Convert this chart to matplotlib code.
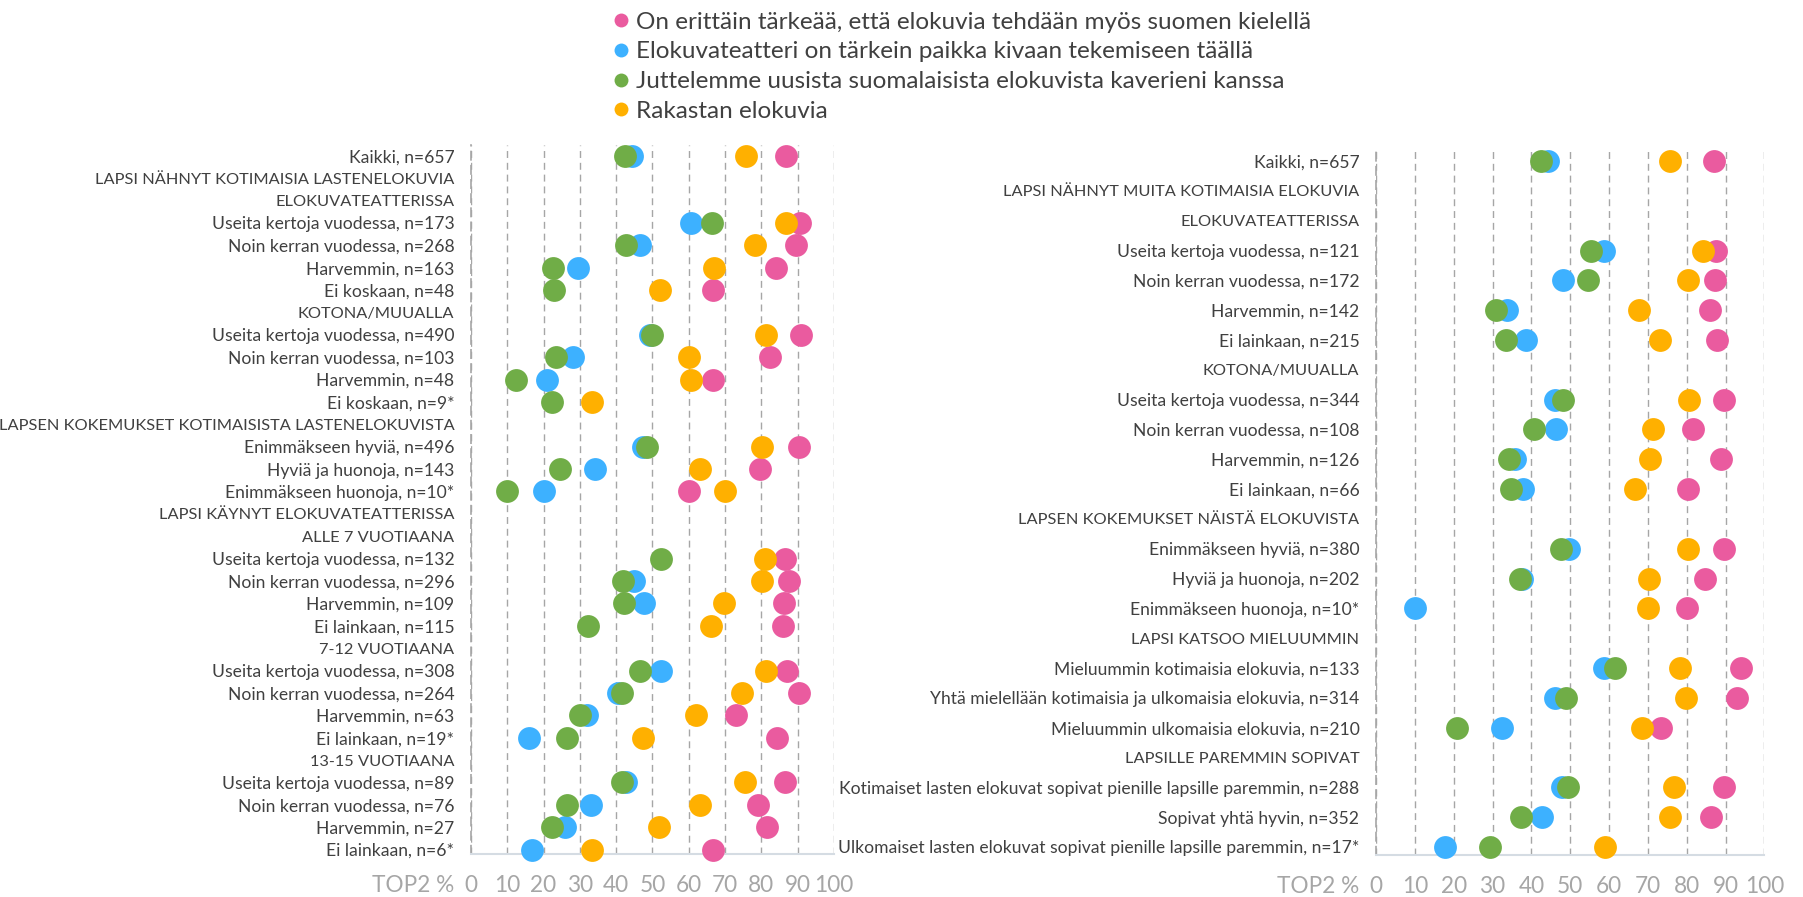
import numpy as np
import matplotlib
matplotlib.use('Agg')
import matplotlib.pyplot as plt
from matplotlib.lines import Line2D

plt.rcParams['font.family'] = ['Lato', 'DejaVu Sans']

nan = np.nan

series_names = ['On erittäin tärkeää, että elokuvia tehdään myös suomen kielellä',
                'Elokuvateatteri on tärkein paikka kivaan tekemiseen täällä',
                'Juttelemme uusista suomalaisista elokuvista kaverieni kanssa',
                'Rakastan elokuvia']
series_colors = ['#EA5B9F', '#3DB1FF', '#70AD47', '#FFB000']

# left chart
left_labels = ['Kaikki, n=657',
               'LAPSI NÄHNYT KOTIMAISIA LASTENELOKUVIA',
               'ELOKUVATEATTERISSA',
               'Useita kertoja vuodessa, n=173',
               'Noin kerran vuodessa, n=268',
               'Harvemmin, n=163',
               'Ei koskaan, n=48',
               'KOTONA/MUUALLA',
               'Useita kertoja vuodessa, n=490',
               'Noin kerran vuodessa, n=103',
               'Harvemmin, n=48',
               'Ei koskaan, n=9*',
               'LAPSEN KOKEMUKSET KOTIMAISISTA LASTENELOKUVISTA',
               'Enimmäkseen hyviä, n=496',
               'Hyviä ja huonoja, n=143',
               'Enimmäkseen huonoja, n=10*',
               'LAPSI KÄYNYT ELOKUVATEATTERISSA',
               'ALLE 7 VUOTIAANA',
               'Useita kertoja vuodessa, n=132',
               'Noin kerran vuodessa, n=296',
               'Harvemmin, n=109',
               'Ei lainkaan, n=115',
               '7-12 VUOTIAANA',
               'Useita kertoja vuodessa, n=308',
               'Noin kerran vuodessa, n=264',
               'Harvemmin, n=63',
               'Ei lainkaan, n=19*',
               '13-15 VUOTIAANA',
               'Useita kertoja vuodessa, n=89',
               'Noin kerran vuodessa, n=76',
               'Harvemmin, n=27',
               'Ei lainkaan, n=6*']
left_pink = [86.9, nan, nan, 90.8, 89.6, 84.0, 66.6, nan, 91.0, 82.5, 66.6, nan,
             nan, 90.5, 79.7, 60.0, nan, nan, 86.4, 87.6, 86.3, 86.1, nan,
             87.1, 90.3, 73.1, 84.3, nan, 86.5, 79.0, 81.5, 66.6]
left_blue = [44.3, nan, nan, 60.7, 46.6, 29.5, nan, nan, 49.4, 28.1, 20.9, nan,
             nan, 47.5, 34.3, 20.0, nan, nan, nan, 45.0, 47.6, nan, nan,
             52.3, 40.6, 32.0, 15.9, nan, 42.7, 33.0, 26.0, 16.7]
left_green = [42.5, nan, nan, 66.5, 42.6, 22.7, 23.0, nan, 49.9, 23.3, 12.5, 22.2,
              nan, 48.6, 24.4, 10.0, nan, nan, 52.3, 42.0, 42.2, 32.2, nan,
              46.5, 41.7, 30.1, 26.4, nan, 41.6, 26.4, 22.3, nan]
left_orange = [75.8, nan, nan, 86.7, 78.3, 66.9, 52.1, nan, 81.4, 60.2, 60.5, 33.4,
               nan, 80.2, 63.0, 70.0, nan, nan, 81.1, 80.1, 69.8, 66.1, nan,
               81.4, 74.7, 61.9, 47.4, nan, 75.4, 63.2, 51.8, 33.4]

# right chart
right_labels = ['Kaikki, n=657',
                'LAPSI NÄHNYT MUITA KOTIMAISIA ELOKUVIA',
                'ELOKUVATEATTERISSA',
                'Useita kertoja vuodessa, n=121',
                'Noin kerran vuodessa, n=172',
                'Harvemmin, n=142',
                'Ei lainkaan, n=215',
                'KOTONA/MUUALLA',
                'Useita kertoja vuodessa, n=344',
                'Noin kerran vuodessa, n=108',
                'Harvemmin, n=126',
                'Ei lainkaan, n=66',
                'LAPSEN KOKEMUKSET NÄISTÄ ELOKUVISTA',
                'Enimmäkseen hyviä, n=380',
                'Hyviä ja huonoja, n=202',
                'Enimmäkseen huonoja, n=10*',
                'LAPSI KATSOO MIELUUMMIN',
                'Mieluummin kotimaisia elokuvia, n=133',
                'Yhtä mielellään kotimaisia ja ulkomaisia elokuvia, n=314',
                'Mieluummin ulkomaisia elokuvia, n=210',
                'LAPSILLE PAREMMIN SOPIVAT',
                'Kotimaiset lasten elokuvat sopivat pienille lapsille paremmin, n=288',
                'Sopivat yhtä hyvin, n=352',
                'Ulkomaiset lasten elokuvat sopivat pienille lapsille paremmin, n=17*']
right_pink = [87.0, nan, nan, 87.6, 87.2, 86.0, 87.9, nan, 89.5, 81.5, 88.9, 80.3,
              nan, 89.5, 84.6, 80.1, nan, 94.0, 93.0, 73.3, nan, 89.6, 86.2, nan]
right_blue = [44.3, nan, nan, 58.7, 48.2, 33.8, 38.6, nan, 46.2, 46.3, 35.8, 37.9,
              nan, 49.7, 37.7, 10.0, nan, 58.6, 46.1, 32.4, nan, 47.8, 42.7, 17.7]
right_green = [42.4, nan, nan, 55.4, 54.7, 31.0, 33.5, nan, 48.2, 40.7, 34.2, 34.8,
               nan, 47.7, 37.1, nan, nan, 61.6, 48.8, 20.9, nan, 49.3, 37.4, 29.4]
right_orange = [75.8, nan, nan, 84.3, 80.3, 67.6, 73.0, nan, 80.5, 71.3, 70.6, 66.7,
                nan, 80.4, 70.3, 70.0, nan, 78.2, 79.7, 68.6, nan, 76.7, 75.8, 58.9]

x_ticks = list(range(0, 101, 10))

GRID = '#A6A6A6'
DASH = (0, (5, 3.5))

fig = plt.figure(figsize=(18.03, 8.97), dpi=100)
renderer = fig.canvas.get_renderer()


def fit_size(text, target_px):
    # the original uses a narrow font, so pick the size that gives the same text width
    t = fig.text(0, 0, text, fontsize=10)
    w = t.get_window_extent(renderer=renderer).width
    t.remove()
    return 10 * target_px / w


label_size = fit_size('Ulkomaiset lasten elokuvat sopivat pienille lapsille paremmin, n=17*', 519)
caps_size = fit_size('LAPSEN KOKEMUKSET KOTIMAISISTA LASTENELOKUVISTA', 452)
tick_size = fit_size('TOP2 %', 82)
legend_size = fit_size(series_names[0], 675)


def draw_panel(ax, labels, series, ylim):
    y = np.arange(len(labels))
    for k, (vals, color) in enumerate(zip(series, series_colors)):
        ax.scatter(vals, y, s=270, color=color, linewidths=0, zorder=3 + k, clip_on=False)
    ax.set_xlim(0, 100)
    ax.set_ylim(*ylim)
    ax.set_xticks(x_ticks)
    ax.set_yticks(y)
    ax.set_yticklabels(labels)
    ax.xaxis.grid(True, color=GRID, linestyle=DASH, linewidth=1.0)
    ax.set_axisbelow(True)
    ax.tick_params(axis='x', length=0, pad=15, labelsize=tick_size, labelcolor='#A6A6A6')
    ax.tick_params(axis='y', length=0, pad=12, labelsize=label_size, labelcolor='#404040')
    # group headings are in capitals, which are wide in this font
    for lab in ax.get_yticklabels():
        if lab.get_text().isupper():
            lab.set_fontsize(caps_size)
    for s in ['top', 'right']:
        ax.spines[s].set_visible(False)
    ax.spines['left'].set_color(GRID)
    ax.spines['left'].set_linestyle(DASH)
    ax.spines['left'].set_linewidth(1.2)
    ax.spines['bottom'].set_color('#D5DCE3')
    ax.spines['bottom'].set_linewidth(1.5)
    ax.annotate('TOP2 %', xy=(0, 0), xycoords='axes fraction', xytext=(-12, -15),
                textcoords='offset points', ha='right', va='top', fontsize=tick_size, color='#A6A6A6')


ax1 = fig.add_axes([0.2612, 0.0479, 0.2013, 0.7904])
ax2 = fig.add_axes([0.7632, 0.0468, 0.2154, 0.7896])

draw_panel(ax1, left_labels, [left_pink, left_blue, left_green, left_orange], (31.2, -0.48))
draw_panel(ax2, right_labels, [right_pink, right_blue, right_green, right_orange], (23.27, -0.48))

handles = [Line2D([], [], marker='o', linestyle='none', markersize=10, color=c, markeredgewidth=0)
           for c in series_colors]
fig.legend(handles, series_names, loc='upper left', bbox_to_anchor=(0.3406, 0.987),
           frameon=False, fontsize=legend_size, handlelength=0.6, handletextpad=0.3,
           labelspacing=0.36, borderpad=0, borderaxespad=0, labelcolor='#404040')

fig.savefig('out.png', dpi=100)
